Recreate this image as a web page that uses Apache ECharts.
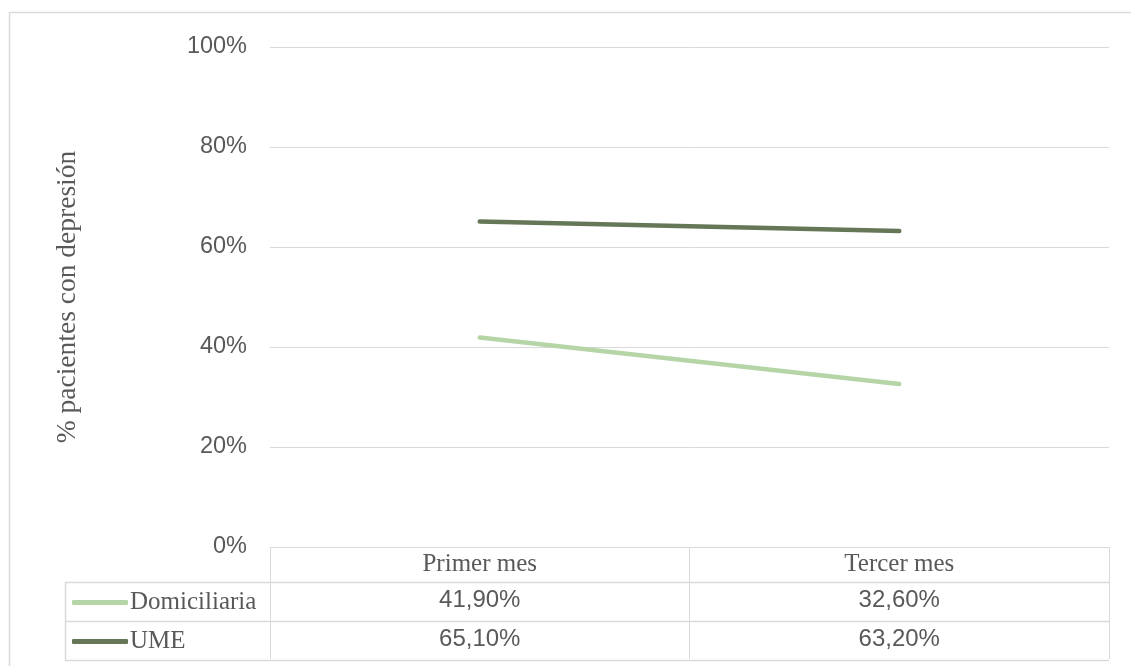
<!DOCTYPE html>
<html>
<head>
<meta charset="utf-8">
<script src="https://cdn.jsdelivr.net/npm/echarts@6/dist/echarts.min.js"></script>
<style>
html,body{margin:0;padding:0;background:#fff;}
#chart{width:1131px;height:666px;}
</style>
</head>
<body>
<div id="chart"></div>
<script>
// Data
const categories = ['Primer mes', 'Tercer mes'];
const domiciliaria = [41.9, 32.6];
const ume = [65.1, 63.2];
const seriesNames = ['Domiciliaria', 'UME'];
const yTicks = { min: 0, max: 100, interval: 20 };
const yTitle = '% pacientes con depresión';

const fmt = v => v.toFixed(2).replace('.', ',') + '%';

const colLight = '#B5D5A6';
const colDark = '#667758';
const gridColor = '#D9D9D9';
const textColor = '#595959';
const serif = '"Liberation Serif", "Times New Roman", serif';
const sans = '"Liberation Sans", Arial, sans-serif';

const G = { left: 270, right: 22, top: 47, bottom: 119 };
const tableLeft = 65;
const rows = [582, 621, 660];

const chart = echarts.init(document.getElementById('chart'));
chart.setOption({
  animation: false,
  grid: { left: G.left, right: G.right, top: G.top, bottom: G.bottom, containLabel: false },
  legend: {
    orient: 'vertical',
    left: 72,
    top: 583,
    padding: 0,
    itemGap: 0,
    itemWidth: 56,
    itemHeight: 5,
    selectedMode: false,
    data: [
      { name: seriesNames[0], icon: 'roundRect' },
      { name: seriesNames[1], icon: 'roundRect' }
    ],
    textStyle: { fontFamily: serif, fontSize: 25, color: textColor, lineHeight: 39, padding: [0, 0, 0, -3] }
  },
  xAxis: {
    type: 'category',
    data: categories,
    boundaryGap: true,
    axisLine: { show: true, lineStyle: { color: gridColor, width: 1 } },
    axisTick: { show: true, length: 112, lineStyle: { color: gridColor, width: 1 } },
    axisLabel: {
      margin: 0,
      interval: 0,
      formatter: (val, idx) => '{c|' + val + '}\n{v|' + fmt(domiciliaria[idx]) + '}\n{v|' + fmt(ume[idx]) + '}',
      rich: {
        c: { fontFamily: serif, fontSize: 25, color: textColor, lineHeight: 34 },
        v: { fontFamily: sans, fontSize: 24, color: textColor, lineHeight: 39 }
      }
    }
  },
  yAxis: {
    type: 'value',
    min: yTicks.min,
    max: yTicks.max,
    interval: yTicks.interval,
    name: yTitle,
    nameLocation: 'middle',
    nameGap: 188,
    nameRotate: 90,
    nameTextStyle: { fontFamily: serif, fontSize: 27.5, color: textColor },
    axisLine: { show: false },
    axisTick: { show: false },
    axisLabel: { formatter: '{value}%', margin: 23, fontFamily: sans, fontSize: 23.5, color: textColor },
    splitLine: { lineStyle: { color: gridColor, width: 1 } }
  },
  series: [
    {
      name: seriesNames[0], type: 'line', data: domiciliaria, symbol: 'none',
      itemStyle: { color: colLight },
      lineStyle: { color: colLight, width: 4.5, cap: 'round' }
    },
    {
      name: seriesNames[1], type: 'line', data: ume, symbol: 'none',
      itemStyle: { color: colDark },
      lineStyle: { color: colDark, width: 4.5, cap: 'round' }
    }
  ],
  graphic: [
    { type: 'rect', shape: { x: 9.5, y: 12.5, width: 1130, height: 700 }, style: { fill: null, stroke: gridColor, lineWidth: 1.5 }, silent: true },
    ...rows.map(y => ({ type: 'line', shape: { x1: tableLeft, y1: y + 0.5, x2: 1131 - G.right, y2: y + 0.5 }, style: { stroke: gridColor, lineWidth: 1.5 }, silent: true })),
    { type: 'line', shape: { x1: tableLeft + 0.5, y1: rows[0], x2: tableLeft + 0.5, y2: rows[2] + 1 }, style: { stroke: gridColor, lineWidth: 1.5 }, silent: true }
  ]
});
</script>
</body>
</html>
